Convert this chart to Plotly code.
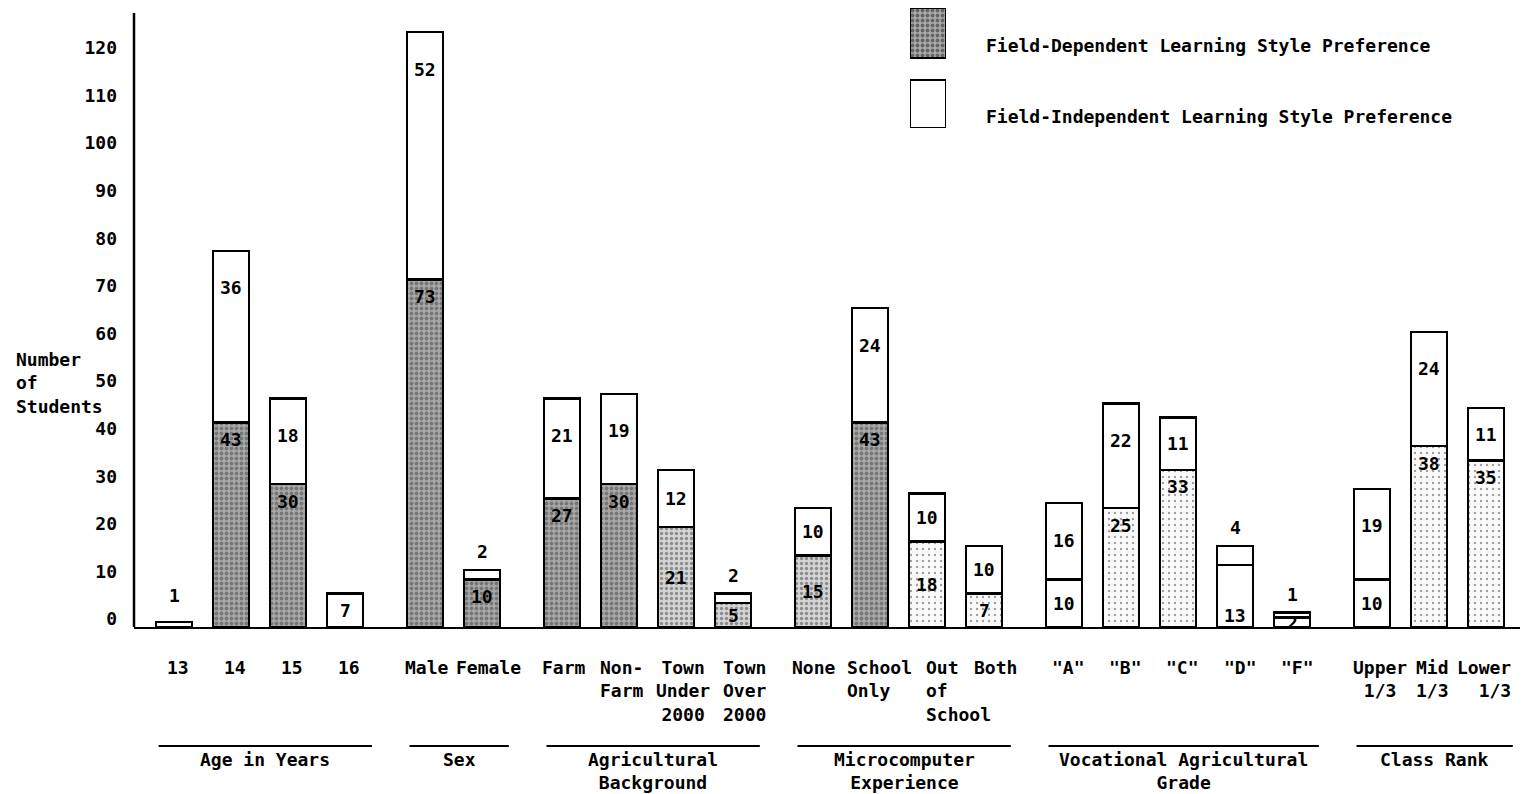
import plotly.graph_objects as go

# ---------------- data ----------------
categories = ["13", "14", "15", "16", "Male", "Female",
              "Farm", "Non-Farm", "Town Under 2000", "Town Over 2000",
              "None", "School Only", "Out of School", "Both",
              '"A"', '"B"', '"C"', '"D"', '"F"',
              "Upper 1/3", "Mid 1/3", "Lower 1/3"]
tick_labels = ["13", "14", "15", "16", "Male", "Female",
               "Farm", "Non-<br>Farm", "Town<br>Under<br>2000", "Town<br>Over<br>2000",
               "None", "School<br>Only", "Out<br>of<br>School", "Both",
               '"A"', '"B"', '"C"', '"D"', '"F"',
               "Upper<br>1/3", "Mid<br>1/3", "Lower<br>1/3"]
group_names = ["Age in Years", "Sex", "Agricultural<br>Background",
               "Microcomputer<br>Experience", "Vocational Agricultural<br>Grade",
               "Class Rank"]
group_sizes = [4, 2, 4, 4, 5, 3]
field_dependent = [1, 43, 30, 7, 73, 10, 27, 30, 21, 5, 15, 43, 18, 7,
                   10, 25, 33, 13, 2, 10, 38, 35]
field_independent = [0, 36, 18, 0, 52, 2, 21, 19, 12, 2, 10, 24, 10, 10,
                     16, 22, 11, 4, 1, 19, 24, 11]
y_ticks = list(range(0, 121, 10))

# ---------------- styling ----------------
FONT = "DejaVu Sans Mono"
FS = 18
W, H = 1526, 794
L, R, T, B = 134, 1520, 6, 627
PX_UNIT = 4.76          # pixels per student
X_UNIT = 57.04          # pixels per category step
GAP = 0.4               # extra gap between groups (category units)

# scan-like stipple density per bar (0 none .. 3 heavy)
shade = [0, 3, 3, 0, 3, 3, 3, 3, 2, 2, 2, 3, 1, 1, 0, 1, 1, 0, 0, 0, 1, 1]
dep_label_mode = ["above", "top", "top", "mid", "top", "top", "top", "top", "mid", "mid",
                  "mid", "top", "mid", "mid", "mid", "top", "top", "bottom", "mid",
                  "mid", "top", "top"]
label_dx = [4, 4, 4, 4, 2, 6, 2, 3, 7, 12, 1, 10, 32, 11, 5, 5, 5, 5, 5, 8, 4, -2]
label_align = ["center"] * 22
label_align[12] = "left"
label_align[11] = "left"
label_align[9] = "right"
label_align[21] = "right"

shade_bg = {0: "white", 1: "#fafafa", 2: "#d4d4d4", 3: "#a9a9a9"}
shade_fg = {0: "white", 1: "#8a8a8a", 2: "#444444", 3: "#222222"}
shade_sol = {0: 0.0, 1: 0.12, 2: 0.35, 3: 0.45}


def xp(px):
    return (px - L) / (R - L)


def yp(py):
    return (B - py) / (B - T)


# positions with gaps between groups
positions = []
i = 0
for g, n in enumerate(group_sizes):
    for _ in range(n):
        positions.append(i + GAP * g)
        i += 1

x_range = [-(174 - L) / X_UNIT, positions[-1] + (R - 1486) / X_UNIT]
y_range = [0, (B - T) / PX_UNIT]

fig = go.Figure()

fig.add_trace(go.Bar(
    x=positions, y=field_dependent, width=0.63,
    name="Field-Dependent Learning Style Preference",
    marker=dict(
        color=[shade_bg[s] for s in shade],
        line=dict(color="black", width=2.5),
        pattern=dict(shape=["." if s else "" for s in shade],
                     fgcolor=[shade_fg[s] for s in shade],
                     bgcolor=[shade_bg[s] for s in shade],
                     solidity=[shade_sol[s] if s else 0.1 for s in shade],
                     size=[6 if s == 1 else 5 for s in shade]),
    ),
    hoverinfo="skip", showlegend=False,
))
fig.add_trace(go.Bar(
    x=positions, y=field_independent, width=0.63,
    name="Field-Independent Learning Style Preference",
    marker=dict(color="white", line=dict(color="black", width=2.5)),
    hoverinfo="skip", showlegend=False,
))

annotations = []
lab_font = dict(family=FONT, size=FS, color="black", weight="bold")

# value labels
for k in range(len(categories)):
    x = positions[k]
    d, f = field_dependent[k], field_independent[k]
    mode = dep_label_mode[k]
    if mode == "above":
        annotations.append(dict(x=x, y=d, yanchor="bottom", yshift=14, text=str(d)))
    elif mode == "top":
        annotations.append(dict(x=x, y=d, yanchor="middle", yshift=-17, text=str(d)))
    elif mode == "bottom":
        annotations.append(dict(x=x, y=0, yanchor="middle", yshift=12, text=str(d)))
    else:
        annotations.append(dict(x=x, y=d / 2, yanchor="middle", text=str(d)))
    if f > 0:
        seg_px = f * PX_UNIT
        if seg_px < 20:
            annotations.append(dict(x=x, y=d + f, yanchor="bottom", yshift=6, text=str(f)))
        elif seg_px > 74:
            annotations.append(dict(x=x, y=d + f, yanchor="middle", yshift=-37, text=str(f)))
        else:
            annotations.append(dict(x=x, y=d + f / 2, yanchor="middle", text=str(f)))
for a in annotations:
    a.update(xref="x", yref="y", showarrow=False, font=lab_font)

# category labels
for k in range(len(categories)):
    annotations.append(dict(
        x=positions[k], xref="x", y=yp(655), yref="paper", yanchor="top",
        xanchor="center", xshift=label_dx[k], align=label_align[k],
        text=tick_labels[k], showarrow=False, font=lab_font))

# group lines and titles
shapes = []
start = 0
for g, n in enumerate(group_sizes):
    x0 = positions[start] - 0.27
    x1 = positions[start + n - 1] + 0.47
    shapes.append(dict(type="line", xref="x", yref="paper", x0=x0, x1=x1,
                       y0=yp(746), y1=yp(746), line=dict(color="black", width=2)))
    annotations.append(dict(x=(x0 + x1) / 2, xref="x", y=yp(747), yref="paper",
                            yanchor="top", xanchor="center", align="center",
                            text=group_names[g], showarrow=False, font=lab_font))
    start += n

# y axis line (drawn so the legend can sit above the plot top)
shapes.append(dict(type="line", xref="paper", yref="y", x0=0, x1=0,
                   y0=0, y1=(B - 13) / PX_UNIT, line=dict(color="black", width=2.5)))

# axis title
annotations.append(dict(x=xp(14), xref="paper", y=yp(347), yref="paper",
                        xanchor="left", yanchor="top", align="left",
                        text="Number<br>of<br>Students", showarrow=False, font=lab_font))

# legend swatches on a small auxiliary axis
fig.add_trace(go.Bar(
    x=[0], y=[50], base=[70], width=1, xaxis="x2", yaxis="y2",
    marker=dict(color="#a9a9a9", line=dict(color="black", width=2.5),
                pattern=dict(shape=".", fgcolor="#222222", bgcolor="#a9a9a9",
                             solidity=0.45, size=5)),
    hoverinfo="skip", showlegend=False))
fig.add_trace(go.Bar(
    x=[0], y=[48], base=[0], width=1, xaxis="x2", yaxis="y2",
    marker=dict(color="white", line=dict(color="black", width=2.5)),
    hoverinfo="skip", showlegend=False))
annotations.append(dict(x=xp(984), xref="paper", y=yp(46), yref="paper",
                        xanchor="left", yanchor="middle",
                        text="Field-Dependent Learning Style Preference",
                        showarrow=False, font=lab_font))
annotations.append(dict(x=xp(984), xref="paper", y=yp(116), yref="paper",
                        xanchor="left", yanchor="middle",
                        text="Field-Independent Learning Style Preference",
                        showarrow=False, font=lab_font))

fig.update_layout(
    width=W, height=H, barmode="stack",
    margin=dict(l=L, r=W - R, t=T, b=H - B),
    paper_bgcolor="white", plot_bgcolor="white",
    font=dict(family=FONT, size=FS, color="black"),
    xaxis=dict(range=x_range, showticklabels=False, ticks="", showgrid=False,
               zeroline=False, showline=True, linecolor="black", linewidth=2,
               fixedrange=True),
    yaxis=dict(range=y_range, tickvals=y_ticks, ticks="", showgrid=False,
               zeroline=False, showline=False, ticklabelstandoff=16,
               ticklabelshift=-8, tickfont=lab_font, fixedrange=True),
    xaxis2=dict(domain=[xp(910), xp(946)], range=[-0.5, 0.5], anchor="y2",
                visible=False, fixedrange=True),
    yaxis2=dict(domain=[yp(128), yp(8)], range=[0, 120], anchor="x2",
                visible=False, fixedrange=True),
    shapes=shapes, annotations=annotations, bargap=0,
)

fig.write_html("out.html",
               config={"displayModeBar": False, "staticPlot": True},
               post_script="document.body.style.margin='0';"
                           "document.body.style.overflow='hidden';")
